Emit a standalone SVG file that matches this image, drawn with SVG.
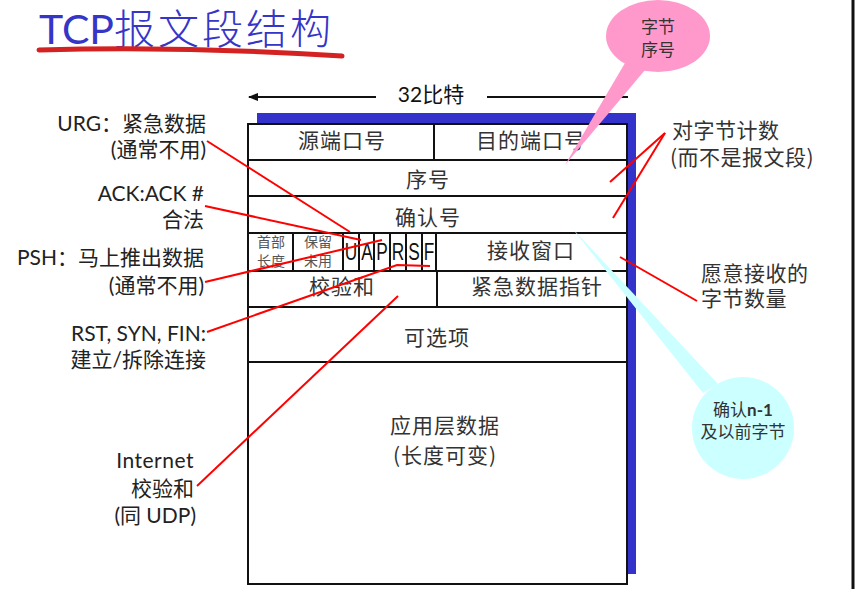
<svg xmlns="http://www.w3.org/2000/svg" width="861" height="589" viewBox="0 0 861 589">
<defs>
<style>
.cell{font-family:"Noto Sans CJK SC",sans-serif;font-size:21px;fill:#333;text-anchor:middle;letter-spacing:1px}
.small{font-family:"Noto Sans CJK SC",sans-serif;font-size:14px;fill:#555;text-anchor:middle}
.flag{font-family:"Liberation Sans",sans-serif;font-size:24px;fill:#111;text-anchor:middle}
.lbl{font-family:Lato,"Noto Sans CJK SC",sans-serif;font-size:21px;fill:#222;text-anchor:end}
.rlbl{font-family:"Noto Sans CJK SC",sans-serif;font-size:21px;fill:#333;letter-spacing:0.5px}
.bub{font-family:"Noto Sans CJK SC",sans-serif;font-size:17px;fill:#333;text-anchor:middle}
.grid{stroke:#111;stroke-width:2}
.red{stroke:#ff0000;stroke-width:2;fill:none}
</style>
<marker id="ah" markerWidth="10" markerHeight="8" refX="1" refY="4" orient="auto" markerUnits="userSpaceOnUse">
<path d="M10,0 L0,4 L10,8 z" fill="#111"/>
</marker>
</defs>
<rect x="0" y="0" width="861" height="589" fill="#fff"/>
<line x1="853" y1="0" x2="853" y2="589" stroke="#111" stroke-width="3"/>

<g id="title">
<text x="39" y="44" font-family="Lato,'Noto Sans CJK SC',sans-serif" font-size="41" fill="#3535c8">TCP<tspan font-family="'Noto Sans CJK SC',sans-serif" font-weight="300" letter-spacing="3">报文段结构</tspan></text>
<path d="M39,50 Q190,46 342,56" stroke="#d42222" stroke-width="5" fill="none" stroke-linecap="round"/>
</g>

<g id="width-label">
<line x1="249" y1="97" x2="376" y2="97" stroke="#111" stroke-width="2" marker-start="url(#ah)"/>
<line x1="487" y1="97" x2="628" y2="97" stroke="#111" stroke-width="2"/>
<text x="431" y="102" text-anchor="middle" font-family="Lato,'Noto Sans CJK SC',sans-serif" font-size="21" fill="#111">32比特</text>
</g>

<g id="segment">
<rect x="257" y="113" width="379" height="461" fill="#3333cc"/>
<rect x="248" y="124" width="379" height="460" fill="#ffffff" stroke="#111" stroke-width="2"/>
<line class="grid" x1="248" y1="160" x2="627" y2="160"/>
<line class="grid" x1="248" y1="196" x2="627" y2="196"/>
<line class="grid" x1="248" y1="233" x2="627" y2="233"/>
<line class="grid" x1="248" y1="271" x2="627" y2="271"/>
<line class="grid" x1="248" y1="307" x2="627" y2="307"/>
<line class="grid" x1="248" y1="362" x2="627" y2="362"/>
<line class="grid" x1="434" y1="124" x2="434" y2="160"/>
<line class="grid" x1="293" y1="233" x2="293" y2="271" stroke-width="1.5"/>
<line class="grid" x1="343" y1="233" x2="343" y2="271" stroke-width="1.5"/>
<line class="grid" x1="359" y1="233" x2="359" y2="271" stroke-width="1.5"/>
<line class="grid" x1="374" y1="233" x2="374" y2="271" stroke-width="1.5"/>
<line class="grid" x1="390" y1="233" x2="390" y2="271" stroke-width="1.5"/>
<line class="grid" x1="406" y1="233" x2="406" y2="271" stroke-width="1.5"/>
<line class="grid" x1="422" y1="233" x2="422" y2="271" stroke-width="1.5"/>
<line class="grid" x1="436" y1="233" x2="436" y2="271"/>
<line class="grid" x1="437" y1="271" x2="437" y2="307"/>
</g>

<g id="src-port"><text class="cell" x="342" y="148" letter-spacing="2">源端口号</text></g>
<g id="dst-port"><text class="cell" x="531" y="148" letter-spacing="2">目的端口号</text></g>
<g id="seq"><text class="cell" x="428" y="187" letter-spacing="2">序号</text></g>
<g id="ack"><text class="cell" x="428" y="225" letter-spacing="2">确认号</text></g>
<g id="hlen"><text class="small" x="271" y="247">首部</text><text class="small" x="271" y="266">长度</text></g>
<g id="reserved"><text class="small" x="318" y="247">保留</text><text class="small" x="318" y="266">未用</text></g>
<g id="flags">
<text class="flag" transform="translate(351,260) scale(0.72,1)">U</text>
<text class="flag" transform="translate(367,260) scale(0.72,1)">A</text>
<text class="flag" transform="translate(382,260) scale(0.72,1)">P</text>
<text class="flag" transform="translate(398,260) scale(0.72,1)">R</text>
<text class="flag" transform="translate(414,260) scale(0.72,1)">S</text>
<text class="flag" transform="translate(429,260) scale(0.72,1)">F</text>
</g>
<g id="rwnd"><text class="cell" x="531" y="258">接收窗口</text></g>
<g id="checksum"><text class="cell" x="342" y="294" letter-spacing="2">校验和</text></g>
<g id="urgptr"><text class="cell" x="537" y="294">紧急数据指针</text></g>
<g id="options"><text class="cell" x="437" y="345" letter-spacing="2">可选项</text></g>
<g id="data"><text class="cell" x="445" y="433" font-size="22" letter-spacing="2">应用层数据</text><text class="cell" x="445" y="463" font-size="22">(长度可变)</text></g>

<g id="lbl-urg"><text class="lbl" x="206" y="131">URG：紧急数据</text><text class="lbl" x="206" y="157">(通常不用)</text></g>
<g id="lbl-ack"><text class="lbl" x="204" y="201">ACK:ACK #</text><text class="lbl" x="204" y="227">合法</text></g>
<g id="lbl-psh"><text class="lbl" x="204" y="265">PSH：马上推出数据</text><text class="lbl" x="204" y="293">(通常不用)</text></g>
<g id="lbl-rst"><text class="lbl" x="206" y="341">RST, SYN, FIN:</text><text class="lbl" x="206" y="367">建立/拆除连接</text></g>
<g id="lbl-cksum"><text class="lbl" x="194" y="468" font-family="'Liberation Sans',sans-serif" font-size="21" letter-spacing="0.5">Internet</text><text class="lbl" x="194" y="496">校验和</text><text class="lbl" x="196" y="523">(同 UDP)</text></g>
<g id="lbl-count"><text class="rlbl" x="672" y="138">对字节计数</text><text class="rlbl" x="670" y="165">(而不是报文段)</text></g>
<g id="lbl-rwnd"><text class="rlbl" x="701" y="281">愿意接收的</text><text class="rlbl" x="701" y="306">字节数量</text></g>

<g id="connectors">
<line class="red" x1="207" y1="141" x2="350" y2="232"/>
<line class="red" x1="205" y1="206" x2="361" y2="240"/>
<line class="red" x1="205" y1="282" x2="382" y2="240"/>
<polyline class="red" points="207,332 397,265 430,266"/>
<line class="red" x1="197" y1="486" x2="398" y2="296"/>
<line class="red" x1="665" y1="133" x2="610" y2="182"/>
<line class="red" x1="665" y1="133" x2="613" y2="218"/>
<line class="red" x1="620" y1="257" x2="697" y2="301"/>
</g>

<g id="callout-seq">
<polygon points="625,63 645,70 565,165" fill="#ff99cc"/>
<ellipse cx="658" cy="36" rx="52" ry="36" fill="#ff99cc"/>
<text class="bub" x="658" y="33">字节</text>
<text class="bub" x="658" y="56">序号</text>
</g>

<g id="callout-ack">
<polygon points="572,228 703,393 718,384" fill="#ccffff"/>
<circle cx="743" cy="428" r="51" fill="#ccffff"/>
<text class="bub" x="743" y="416">确认<tspan font-family="Lato,sans-serif" font-weight="bold">n-1</tspan></text>
<text class="bub" x="743" y="438">及以前字节</text>
</g>
</svg>
